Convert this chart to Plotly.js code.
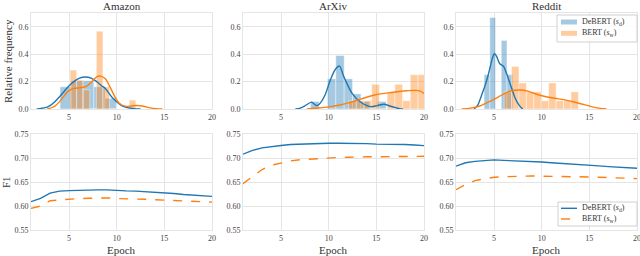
<!DOCTYPE html>
<html>
<head>
<meta charset="utf-8">
<script src="https://cdn.plot.ly/plotly-3.0.1.min.js"></script>
<style>html,body{margin:0;padding:0;background:#fff;}#chart{width:640px;height:256px;}</style>
</head>
<body>
<div id="chart"></div>
<script>
// ---------- Data ----------
const panelTitles = ["Amazon", "ArXiv", "Reddit"];
const seriesNames = ["DeBERT (<i>s</i><sub>d</sub>)", "BERT (<i>s</i><sub>w</sub>)"];

// Histogram bin edges and heights (relative frequency density)
const amazonDebEdges = [4.05, 5.23, 6.41, 7.59, 8.77, 9.95];
const amazonDebHeights = [0.162, 0.206, 0.206, 0.162, 0.078];
const amazonBertEdges = [5.1, 5.79, 6.48, 7.17, 7.86, 8.55, 9.24, 9.93, 10.62, 11.31, 12.0];
const amazonBertHeights = [0.284, 0.21, 0.14, 0, 0.567, 0.162, 0, 0, 0, 0.065];

const arxivDebEdges = [8.1, 8.98, 9.86, 10.74, 11.62, 12.5, 13.38, 14.26, 15.14, 16.02];
const arxivDebHeights = [0.055, 0, 0.22, 0.39, 0.22, 0.11, 0.055, 0, 0.055];
const arxivBertEdges = [12.08, 12.89, 13.7, 14.51, 15.32, 16.13, 16.94, 17.75, 18.56, 19.37, 20.18];
const arxivBertHeights = [0.06, 0.06, 0.06, 0.18, 0, 0.12, 0.18, 0.06, 0.25, 0.25];

const redditDebEdges = [3.95, 4.55, 5.15, 5.75, 6.35, 6.95];
const redditDebHeights = [0.25, 0.667, 0, 0.5, 0.25];
const redditBertEdges = [6.05, 6.83, 7.61, 8.39, 9.17, 9.95, 10.73, 11.51, 12.29, 13.07, 13.85];
const redditBertHeights = [0.125, 0.31, 0.19, 0.125, 0.125, 0.06, 0.19, 0.06, 0.06, 0.125];

// KDE curves
const amazonDebKdeX = [1.6, 2.5, 3.0, 3.5, 4.0, 4.5, 5.0, 5.6, 6.1, 6.7, 7.3, 7.9, 8.4, 8.8, 9.5, 10.4, 11.0, 11.8, 12.5];
const amazonDebKdeY = [0, 0.01, 0.025, 0.053, 0.09, 0.13, 0.17, 0.205, 0.225, 0.233, 0.225, 0.2, 0.17, 0.15, 0.085, 0.03, 0.012, 0.003, 0];
const amazonBertKdeX = [2.7, 3.5, 4.2, 4.9, 5.5, 6.2, 6.8, 7.4, 7.9, 8.3, 8.8, 9.3, 9.8, 10.3, 10.9, 11.5, 12.1, 12.8, 13.5, 14.2, 14.8];
const amazonBertKdeY = [0, 0.02, 0.07, 0.13, 0.15, 0.155, 0.165, 0.2, 0.235, 0.24, 0.22, 0.16, 0.09, 0.04, 0.02, 0.022, 0.025, 0.02, 0.008, 0.002, 0];

const arxivDebKdeX = [6.5, 7.0, 7.5, 8.2, 8.7, 9.0, 9.6, 10.16, 10.7, 11.14, 11.5, 11.9, 12.45, 13.3, 14.4, 15.1, 15.8, 16.5, 17.4, 17.8];
const arxivDebKdeY = [0, 0.006, 0.023, 0.05, 0.025, 0.035, 0.1, 0.21, 0.29, 0.313, 0.25, 0.187, 0.114, 0.053, 0.017, 0.025, 0.035, 0.02, 0.003, 0];
const arxivBertKdeX = [7.7, 8.5, 9.3, 10.2, 11.2, 12.1, 12.95, 13.8, 14.7, 15.6, 16.5, 17.4, 18.2, 19.1, 19.6, 20.0, 20.5];
const arxivBertKdeY = [0, 0.005, 0.01, 0.017, 0.029, 0.045, 0.062, 0.082, 0.1, 0.112, 0.12, 0.128, 0.133, 0.136, 0.13, 0.114, 0.09];

const redditDebKdeX = [2.9, 3.3, 3.63, 4.0, 4.33, 4.6, 4.86, 5.04, 5.25, 5.6, 6.0, 6.3, 6.6, 6.9, 7.2, 7.6, 8.0];
const redditDebKdeY = [0, 0.03, 0.09, 0.16, 0.235, 0.31, 0.38, 0.405, 0.385, 0.33, 0.31, 0.26, 0.2, 0.14, 0.08, 0.03, 0];
const redditBertKdeX = [1.6, 2.5, 3.5, 4.5, 5.5, 6.3, 7.0, 7.7, 8.5, 9.8, 11.2, 12.3, 13.3, 14.3, 15.3, 16.0, 16.8];
const redditBertKdeY = [0, 0.006, 0.022, 0.053, 0.09, 0.12, 0.135, 0.138, 0.13, 0.1, 0.08, 0.068, 0.053, 0.035, 0.016, 0.006, 0];

// F1 per epoch
const epochs = [1,2,3,4,5,6,7,8,9,10,11,12,13,14,15,16,17,18,19,20];
const amazonDebF1 = [0.609,0.616,0.627,0.631,0.632,0.633,0.6336,0.6336,0.6336,0.632,0.6315,0.631,0.630,0.629,0.627,0.626,0.624,0.623,0.6215,0.620];
const amazonBertF1 = [0.595,0.600,0.611,0.613,0.614,0.6155,0.616,0.617,0.617,0.6155,0.6155,0.615,0.614,0.613,0.612,0.6115,0.611,0.6095,0.609,0.608];
const arxivDebF1 = [0.708,0.716,0.721,0.724,0.726,0.728,0.729,0.730,0.7303,0.7306,0.7306,0.7306,0.7306,0.730,0.729,0.729,0.7285,0.728,0.727,0.7257];
const arxivBertF1 = [0.6465,0.662,0.676,0.685,0.690,0.694,0.6965,0.698,0.699,0.7005,0.701,0.7015,0.7025,0.7025,0.7025,0.703,0.703,0.7035,0.7035,0.7035];
const redditDebF1 = [0.683,0.690,0.693,0.6945,0.696,0.695,0.6945,0.694,0.692,0.6917,0.690,0.689,0.6875,0.686,0.685,0.6835,0.682,0.681,0.6795,0.6785];
const redditBertF1 = [0.634,0.6445,0.653,0.657,0.660,0.661,0.662,0.6625,0.6625,0.662,0.662,0.662,0.6615,0.6615,0.6605,0.660,0.6595,0.659,0.658,0.657];

// ---------- Build ----------
const BLUE = "#1f77b4", ORANGE = "#ff7f0e";
const BLUE_A = "rgba(31,119,180,0.4)", ORANGE_A = "rgba(255,127,14,0.4)";
const FONT = "Liberation Serif";

function bars(edges, heights) {
  const x = [], w = [];
  for (let i = 0; i < heights.length; i++) {
    x.push((edges[i] + edges[i+1]) / 2);
    w.push(edges[i+1] - edges[i]);
  }
  return {x, w};
}

const hists = [
  [amazonDebEdges, amazonDebHeights, amazonBertEdges, amazonBertHeights, amazonDebKdeX, amazonDebKdeY, amazonBertKdeX, amazonBertKdeY],
  [arxivDebEdges, arxivDebHeights, arxivBertEdges, arxivBertHeights, arxivDebKdeX, arxivDebKdeY, arxivBertKdeX, arxivBertKdeY],
  [redditDebEdges, redditDebHeights, redditBertEdges, redditBertHeights, redditDebKdeX, redditDebKdeY, redditBertKdeX, redditBertKdeY]
];
const f1s = [[amazonDebF1, amazonBertF1],[arxivDebF1, arxivBertF1],[redditDebF1, redditBertF1]];

const traces = [];
hists.forEach((h, i) => {
  const xa = "x" + (i === 0 ? "" : i + 1), ya = "y" + (i === 0 ? "" : i + 1);
  const b1 = bars(h[0], h[1]), b2 = bars(h[2], h[3]);
  traces.push({type:"bar", x:b1.x, y:h[1], width:b1.w, xaxis:xa, yaxis:ya,
    marker:{color:BLUE_A, line:{color:"rgba(255,255,255,0.7)", width:0.6}},
    name:seriesNames[0], showlegend:false, hoverinfo:"skip"});
  traces.push({type:"scatter", mode:"lines", x:h[4], y:h[5], xaxis:xa, yaxis:ya,
    line:{color:BLUE, width:1.4, shape:"spline", smoothing:0.8}, showlegend:false, hoverinfo:"skip"});
  traces.push({type:"bar", x:b2.x, y:h[3], width:b2.w, xaxis:xa, yaxis:ya,
    marker:{color:ORANGE_A, line:{color:"rgba(255,255,255,0.7)", width:0.6}},
    name:seriesNames[1], showlegend:false, hoverinfo:"skip"});
  traces.push({type:"scatter", mode:"lines", x:h[6], y:h[7], xaxis:xa, yaxis:ya,
    line:{color:ORANGE, width:1.4, shape:"spline", smoothing:0.8}, showlegend:false, hoverinfo:"skip"});
});
f1s.forEach((f, i) => {
  const n = i + 4;
  traces.push({type:"scatter", mode:"lines", x:epochs, y:f[0], xaxis:"x"+n, yaxis:"y"+n,
    line:{color:BLUE, width:1.4}, name:seriesNames[0], showlegend:false, hoverinfo:"skip"});
  traces.push({type:"scatter", mode:"lines", x:epochs, y:f[1], xaxis:"x"+n, yaxis:"y"+n,
    line:{color:ORANGE, width:1.4, dash:"dash"}, name:seriesNames[1], showlegend:false, hoverinfo:"skip"});
});

const W = 640, H = 256;
const colPx = [[31, 212], [243, 424], [456, 637]];
const topPx = [13, 109], botPx = [134, 230];
const gridC = "#e5e5e5";
const px = v => v / W, py = v => 1 - v / H;

function axBase() {
  return {showgrid:true, gridcolor:gridC, gridwidth:1, showline:true, linecolor:gridC, linewidth:1, mirror:true,
    zeroline:false, ticks:"", ticklabeloverflow:"allow",
    tickfont:{family:FONT, size:8, color:"#444", weight:"normal", shadow:"none"}, fixedrange:true};
}
const layout = {
  width:W, height:H, margin:{l:0, r:0, t:0, b:0}, paper_bgcolor:"#fff", plot_bgcolor:"#fff",
  barmode:"overlay", bargap:0, font:{family:FONT, color:"#333", weight:"normal"}, showlegend:false,
  annotations:[], shapes:[]
};
for (let i = 0; i < 6; i++) {
  const col = i % 3, row = i < 3 ? 0 : 1;
  const n = i === 0 ? "" : String(i + 1);
  const xa = axBase(), ya = axBase();
  xa.domain = [colPx[col][0] / W, colPx[col][1] / W];
  xa.range = [1, 20];
  xa.tickvals = [5, 10, 15, 20];
  xa.anchor = "y" + n;
  const yp = row === 0 ? topPx : botPx;
  ya.domain = [1 - yp[1] / H, 1 - yp[0] / H];
  ya.anchor = "x" + n;
  if (row === 0) { ya.range = [0, 0.7]; ya.tickvals = [0, 0.2, 0.4, 0.6]; ya.tickformat = ".1f"; }
  else { ya.range = [0.55, 0.75]; ya.tickvals = [0.55, 0.6, 0.65, 0.7, 0.75]; ya.tickformat = ".2f"; }
  layout["xaxis" + n] = xa;
  layout["yaxis" + n] = ya;
}
const txtFont = {family:FONT, size:11, color:"#333", weight:"normal", shadow:"none"};
panelTitles.forEach((t, c) => {
  layout.annotations.push({text:t, x:px((colPx[c][0] + colPx[c][1]) / 2), y:py(6), xref:"paper", yref:"paper",
    showarrow:false, font:txtFont, xanchor:"center", yanchor:"middle"});
  layout.annotations.push({text:"Epoch", x:px((colPx[c][0] + colPx[c][1]) / 2), y:py(250), xref:"paper", yref:"paper",
    showarrow:false, font:txtFont, xanchor:"center", yanchor:"middle"});
});
layout.annotations.push({text:"Relative frequency", x:px(8), y:py(61), xref:"paper", yref:"paper", textangle:-90,
  showarrow:false, font:txtFont, xanchor:"center", yanchor:"middle"});
layout.annotations.push({text:"F1", x:px(6), y:py(182), xref:"paper", yref:"paper", textangle:-90,
  showarrow:false, font:txtFont, xanchor:"center", yanchor:"middle"});

// ---------- Manual legends (Reddit panels) ----------
const legFont = {family:FONT, size:8, color:"#333", weight:"normal", shadow:"none"};
function legendBox(x0, y0, x1, y1) {
  layout.shapes.push({type:"rect", xref:"paper", yref:"paper", x0:px(x0), x1:px(x1), y0:py(y1), y1:py(y0),
    line:{color:"#d0d0d0", width:1}, fillcolor:"rgba(255,255,255,0.85)", layer:"above"});
}
function legendText(t, x, y) {
  layout.annotations.push({text:t, x:px(x), y:py(y), xref:"paper", yref:"paper", showarrow:false,
    font:legFont, xanchor:"left", yanchor:"middle"});
}
// Top legend (histogram patches)
legendBox(557, 15, 637, 42);
[[22, BLUE_A], [33.3, ORANGE_A]].forEach((r, k) => {
  layout.shapes.push({type:"rect", xref:"paper", yref:"paper", x0:px(561), x1:px(577), y0:py(r[0] + 2.5), y1:py(r[0] - 2.5),
    line:{width:0}, fillcolor:r[1], layer:"above"});
  legendText(seriesNames[k], 580, r[0]);
});
// Bottom legend (lines)
legendBox(558, 202, 637, 226);
[[208.3, BLUE, "solid"], [219, ORANGE, "dash"]].forEach((r, k) => {
  layout.shapes.push({type:"line", xref:"paper", yref:"paper", x0:px(561), x1:px(577), y0:py(r[0]), y1:py(r[0]),
    line:{color:r[1], width:1.4, dash:r[2]}, layer:"above"});
  legendText(seriesNames[k], 580, r[0]);
});

Plotly.newPlot("chart", traces, layout, {staticPlot:true, displayModeBar:false});
</script>
</body>
</html>
